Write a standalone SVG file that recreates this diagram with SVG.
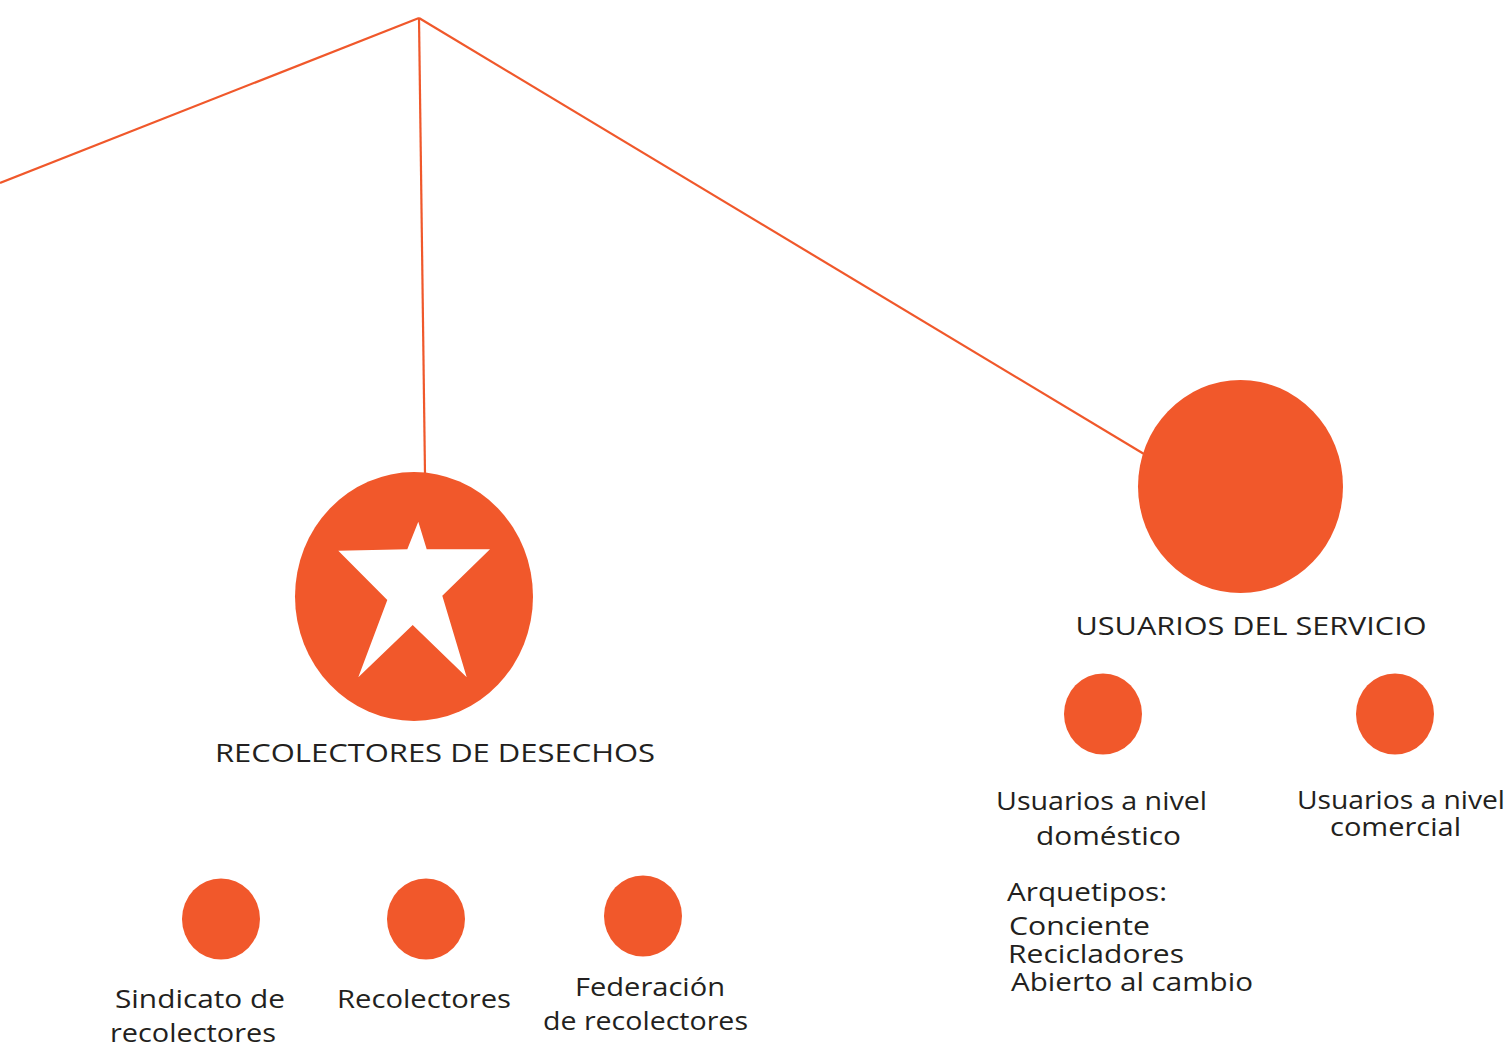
<svg xmlns="http://www.w3.org/2000/svg" width="1510" height="1047" viewBox="0 0 1510 1047">
<style>
.ln{stroke:#f0582b;stroke-width:2.2;fill:none}
.nd{fill:#f1582b}
.t{font-family:"Open Sans","Liberation Sans",sans-serif;font-size:26px;fill:#231f20}
.c{text-anchor:middle}
</style>
<rect width="1510" height="1047" fill="#ffffff"/>
<g id="connectors">
<line class="ln" x1="419" y1="18" x2="0" y2="183"/>
<line class="ln" x1="419" y1="18" x2="425" y2="474"/>
<line class="ln" x1="419" y1="18" x2="1144" y2="454"/>
</g>
<g id="recolectores-de-desechos">
<ellipse class="nd" cx="414" cy="596.5" rx="119" ry="124.5"/>
<polygon fill="#ffffff" points="418.3,521.7 426.7,549.3 490,549.3 442.3,595.7 466.7,677.3 412.7,625 358.3,677.3 387.3,600 338.3,550.7 407.3,549.3"/>
<text class="t c" x="435" y="762" textLength="440" lengthAdjust="spacingAndGlyphs">RECOLECTORES DE DESECHOS</text>
</g>
<g id="usuarios-del-servicio">
<ellipse class="nd" cx="1240.5" cy="486.5" rx="102.5" ry="106.5"/>
<text class="t c" x="1251" y="635" textLength="351" lengthAdjust="spacingAndGlyphs">USUARIOS DEL SERVICIO</text>
</g>
<g id="sindicato">
<ellipse class="nd" cx="221" cy="919" rx="39" ry="40.5"/>
<text class="t c" x="200" y="1008" textLength="170" lengthAdjust="spacingAndGlyphs">Sindicato de</text>
<text class="t c" x="193" y="1042" textLength="166" lengthAdjust="spacingAndGlyphs">recolectores</text>
</g>
<g id="recolectores">
<ellipse class="nd" cx="426" cy="919" rx="39" ry="40.5"/>
<text class="t c" x="424" y="1008" textLength="174" lengthAdjust="spacingAndGlyphs">Recolectores</text>
</g>
<g id="federacion">
<ellipse class="nd" cx="643" cy="916" rx="39" ry="40.5"/>
<text class="t c" x="650" y="996" textLength="150" lengthAdjust="spacingAndGlyphs">Federación</text>
<text class="t c" x="645.5" y="1030" textLength="205" lengthAdjust="spacingAndGlyphs">de recolectores</text>
</g>
<g id="usuarios-domestico">
<ellipse class="nd" cx="1103" cy="714" rx="39" ry="40.5"/>
<text class="t c" x="1101.5" y="810" textLength="211" lengthAdjust="spacingAndGlyphs">Usuarios a nivel</text>
<text class="t c" x="1108.5" y="845" textLength="145" lengthAdjust="spacingAndGlyphs">doméstico</text>
<text class="t" x="1007" y="901" textLength="160" lengthAdjust="spacingAndGlyphs">Arquetipos:</text>
<text class="t" x="1009" y="935" textLength="141" lengthAdjust="spacingAndGlyphs">Conciente</text>
<text class="t" x="1008" y="963" textLength="176" lengthAdjust="spacingAndGlyphs">Recicladores</text>
<text class="t" x="1011" y="991" textLength="242" lengthAdjust="spacingAndGlyphs">Abierto al cambio</text>
</g>
<g id="usuarios-comercial">
<ellipse class="nd" cx="1395" cy="714" rx="39" ry="40.5"/>
<text class="t c" x="1401" y="809" textLength="208" lengthAdjust="spacingAndGlyphs">Usuarios a nivel</text>
<text class="t c" x="1395.5" y="836" textLength="131" lengthAdjust="spacingAndGlyphs">comercial</text>
</g>
</svg>
